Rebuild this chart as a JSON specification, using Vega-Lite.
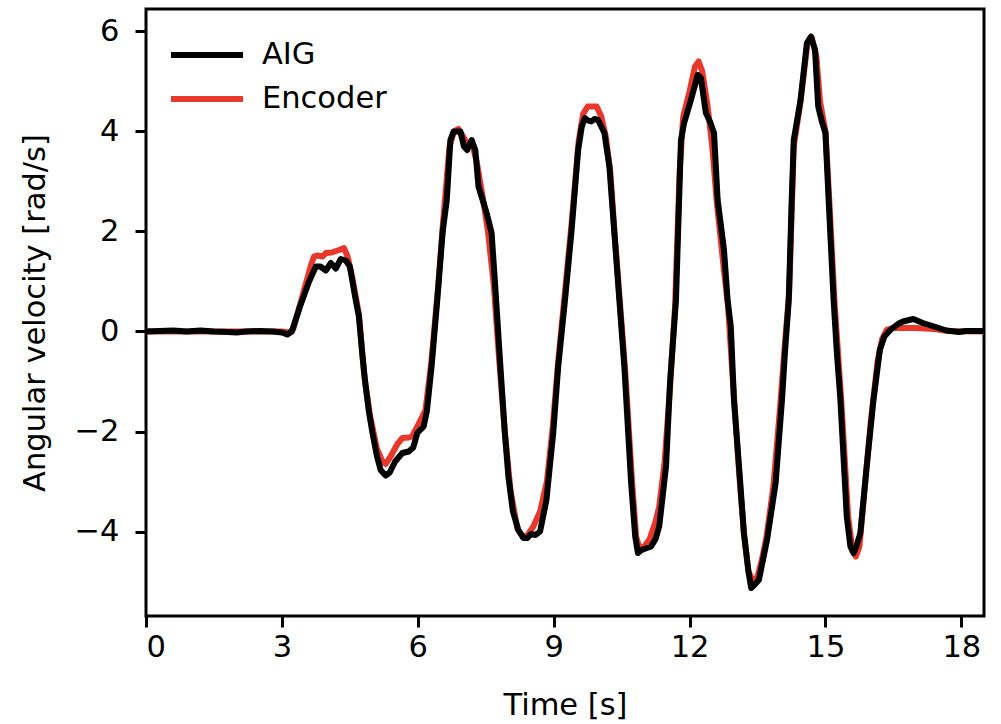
{
  "$schema": "https://vega.github.io/schema/vega-lite/v6.json",
  "width": 838,
  "height": 607,
  "autosize": {"type": "none"},
  "padding": {"left": 146, "top": 9, "right": 17, "bottom": 108},
  "background": "white",
  "config": {
    "view": {"stroke": "black", "strokeWidth": 3},
    "font": "DejaVu Sans",
    "axis": {
      "domain": false,
      "grid": false,
      "tickColor": "black",
      "tickWidth": 3,
      "tickSize": 11,
      "labelFont": "DejaVu Sans",
      "labelFontSize": 30.5,
      "labelColor": "black",
      "titleFont": "DejaVu Sans",
      "titleFontSize": 30.5,
      "titleFontWeight": "normal",
      "titleColor": "black"
    },
    "legend": {
      "labelFont": "DejaVu Sans",
      "labelFontSize": 30.5,
      "labelColor": "black"
    }
  },
  "data": {
    "values": [
      {"t": 0, "v": 0, "s": "Encoder"},
      {"t": 3.0, "v": 0, "s": "Encoder"},
      {"t": 3.15, "v": -0.02, "s": "Encoder"},
      {"t": 3.25, "v": 0.05, "s": "Encoder"},
      {"t": 3.45, "v": 0.7, "s": "Encoder"},
      {"t": 3.65, "v": 1.35, "s": "Encoder"},
      {"t": 3.71, "v": 1.5, "s": "Encoder"},
      {"t": 3.8, "v": 1.52, "s": "Encoder"},
      {"t": 3.9, "v": 1.5, "s": "Encoder"},
      {"t": 3.97, "v": 1.57, "s": "Encoder"},
      {"t": 4.1, "v": 1.58, "s": "Encoder"},
      {"t": 4.26, "v": 1.63, "s": "Encoder"},
      {"t": 4.37, "v": 1.67, "s": "Encoder"},
      {"t": 4.45, "v": 1.5, "s": "Encoder"},
      {"t": 4.55, "v": 1.1, "s": "Encoder"},
      {"t": 4.7, "v": 0.35, "s": "Encoder"},
      {"t": 4.82, "v": -0.9, "s": "Encoder"},
      {"t": 4.95, "v": -1.7, "s": "Encoder"},
      {"t": 5.1, "v": -2.35, "s": "Encoder"},
      {"t": 5.22, "v": -2.6, "s": "Encoder"},
      {"t": 5.29, "v": -2.65, "s": "Encoder"},
      {"t": 5.4, "v": -2.5, "s": "Encoder"},
      {"t": 5.55, "v": -2.25, "s": "Encoder"},
      {"t": 5.66, "v": -2.13, "s": "Encoder"},
      {"t": 5.8, "v": -2.12, "s": "Encoder"},
      {"t": 5.87, "v": -2.1, "s": "Encoder"},
      {"t": 5.99, "v": -1.9, "s": "Encoder"},
      {"t": 6.17, "v": -1.57, "s": "Encoder"},
      {"t": 6.3, "v": -0.6, "s": "Encoder"},
      {"t": 6.45, "v": 0.9, "s": "Encoder"},
      {"t": 6.55, "v": 2.1, "s": "Encoder"},
      {"t": 6.7, "v": 3.7, "s": "Encoder"},
      {"t": 6.8, "v": 4.0, "s": "Encoder"},
      {"t": 6.9, "v": 4.05, "s": "Encoder"},
      {"t": 7.0, "v": 3.9, "s": "Encoder"},
      {"t": 7.1, "v": 3.75, "s": "Encoder"},
      {"t": 7.2, "v": 3.75, "s": "Encoder"},
      {"t": 7.3, "v": 3.4, "s": "Encoder"},
      {"t": 7.45, "v": 2.6, "s": "Encoder"},
      {"t": 7.55, "v": 2.0, "s": "Encoder"},
      {"t": 7.68, "v": 0.9, "s": "Encoder"},
      {"t": 7.8, "v": -0.6, "s": "Encoder"},
      {"t": 7.92, "v": -2.0, "s": "Encoder"},
      {"t": 8.05, "v": -3.2, "s": "Encoder"},
      {"t": 8.2, "v": -3.95, "s": "Encoder"},
      {"t": 8.32, "v": -4.1, "s": "Encoder"},
      {"t": 8.42, "v": -4.08, "s": "Encoder"},
      {"t": 8.55, "v": -3.9, "s": "Encoder"},
      {"t": 8.7, "v": -3.6, "s": "Encoder"},
      {"t": 8.85, "v": -3.0, "s": "Encoder"},
      {"t": 8.98, "v": -1.9, "s": "Encoder"},
      {"t": 9.1, "v": -0.6, "s": "Encoder"},
      {"t": 9.25, "v": 0.8, "s": "Encoder"},
      {"t": 9.4, "v": 2.2, "s": "Encoder"},
      {"t": 9.55, "v": 3.8, "s": "Encoder"},
      {"t": 9.65, "v": 4.35, "s": "Encoder"},
      {"t": 9.75, "v": 4.5, "s": "Encoder"},
      {"t": 9.85, "v": 4.5, "s": "Encoder"},
      {"t": 9.95, "v": 4.5, "s": "Encoder"},
      {"t": 10.05, "v": 4.3, "s": "Encoder"},
      {"t": 10.15, "v": 3.9, "s": "Encoder"},
      {"t": 10.25, "v": 3.2, "s": "Encoder"},
      {"t": 10.35, "v": 1.9, "s": "Encoder"},
      {"t": 10.47, "v": 0.5, "s": "Encoder"},
      {"t": 10.58, "v": -0.8, "s": "Encoder"},
      {"t": 10.73, "v": -3.0, "s": "Encoder"},
      {"t": 10.82, "v": -4.1, "s": "Encoder"},
      {"t": 10.9, "v": -4.35, "s": "Encoder"},
      {"t": 11.0, "v": -4.3, "s": "Encoder"},
      {"t": 11.12, "v": -4.15, "s": "Encoder"},
      {"t": 11.25, "v": -3.8, "s": "Encoder"},
      {"t": 11.33, "v": -3.5, "s": "Encoder"},
      {"t": 11.45, "v": -2.6, "s": "Encoder"},
      {"t": 11.57, "v": -1.1, "s": "Encoder"},
      {"t": 11.68, "v": 0.5, "s": "Encoder"},
      {"t": 11.78, "v": 3.2, "s": "Encoder"},
      {"t": 11.86, "v": 4.3, "s": "Encoder"},
      {"t": 12.0, "v": 4.8, "s": "Encoder"},
      {"t": 12.12, "v": 5.3, "s": "Encoder"},
      {"t": 12.2, "v": 5.4, "s": "Encoder"},
      {"t": 12.28, "v": 5.2, "s": "Encoder"},
      {"t": 12.4, "v": 4.5, "s": "Encoder"},
      {"t": 12.5, "v": 3.7, "s": "Encoder"},
      {"t": 12.6, "v": 2.6, "s": "Encoder"},
      {"t": 12.75, "v": 1.3, "s": "Encoder"},
      {"t": 12.85, "v": 0.5, "s": "Encoder"},
      {"t": 12.95, "v": -0.9, "s": "Encoder"},
      {"t": 13.1, "v": -2.9, "s": "Encoder"},
      {"t": 13.2, "v": -4.05, "s": "Encoder"},
      {"t": 13.3, "v": -4.8, "s": "Encoder"},
      {"t": 13.4, "v": -5.0, "s": "Encoder"},
      {"t": 13.5, "v": -4.9, "s": "Encoder"},
      {"t": 13.6, "v": -4.55, "s": "Encoder"},
      {"t": 13.7, "v": -4.1, "s": "Encoder"},
      {"t": 13.85, "v": -3.1, "s": "Encoder"},
      {"t": 14.0, "v": -1.5, "s": "Encoder"},
      {"t": 14.1, "v": -0.3, "s": "Encoder"},
      {"t": 14.2, "v": 0.8, "s": "Encoder"},
      {"t": 14.3, "v": 3.7, "s": "Encoder"},
      {"t": 14.45, "v": 4.6, "s": "Encoder"},
      {"t": 14.6, "v": 5.75, "s": "Encoder"},
      {"t": 14.7, "v": 5.87, "s": "Encoder"},
      {"t": 14.8, "v": 5.5, "s": "Encoder"},
      {"t": 14.88, "v": 4.6, "s": "Encoder"},
      {"t": 15.0, "v": 4.0, "s": "Encoder"},
      {"t": 15.08, "v": 2.7, "s": "Encoder"},
      {"t": 15.2, "v": 0.6, "s": "Encoder"},
      {"t": 15.35, "v": -1.4, "s": "Encoder"},
      {"t": 15.5, "v": -3.7, "s": "Encoder"},
      {"t": 15.6, "v": -4.4, "s": "Encoder"},
      {"t": 15.67, "v": -4.5, "s": "Encoder"},
      {"t": 15.75, "v": -4.3, "s": "Encoder"},
      {"t": 15.85, "v": -3.3, "s": "Encoder"},
      {"t": 16.0, "v": -1.8, "s": "Encoder"},
      {"t": 16.15, "v": -0.6, "s": "Encoder"},
      {"t": 16.25, "v": -0.15, "s": "Encoder"},
      {"t": 16.35, "v": 0.03, "s": "Encoder"},
      {"t": 16.5, "v": 0.07, "s": "Encoder"},
      {"t": 16.7, "v": 0.07, "s": "Encoder"},
      {"t": 17.0, "v": 0.07, "s": "Encoder"},
      {"t": 17.4, "v": 0.05, "s": "Encoder"},
      {"t": 17.7, "v": 0.01, "s": "Encoder"},
      {"t": 18.5, "v": 0.0, "s": "Encoder"},

      {"t": 0, "v": 0.0, "s": "AIG"},
      {"t": 0.3, "v": 0.01, "s": "AIG"},
      {"t": 0.6, "v": 0.02, "s": "AIG"},
      {"t": 0.9, "v": 0.0, "s": "AIG"},
      {"t": 1.2, "v": 0.02, "s": "AIG"},
      {"t": 1.5, "v": 0.0, "s": "AIG"},
      {"t": 1.8, "v": -0.01, "s": "AIG"},
      {"t": 2.0, "v": -0.02, "s": "AIG"},
      {"t": 2.2, "v": 0.0, "s": "AIG"},
      {"t": 2.5, "v": 0.01, "s": "AIG"},
      {"t": 2.8, "v": 0.0, "s": "AIG"},
      {"t": 3.0, "v": -0.02, "s": "AIG"},
      {"t": 3.12, "v": -0.06, "s": "AIG"},
      {"t": 3.22, "v": 0.0, "s": "AIG"},
      {"t": 3.4, "v": 0.5, "s": "AIG"},
      {"t": 3.6, "v": 1.0, "s": "AIG"},
      {"t": 3.75, "v": 1.3, "s": "AIG"},
      {"t": 3.85, "v": 1.3, "s": "AIG"},
      {"t": 3.97, "v": 1.22, "s": "AIG"},
      {"t": 4.08, "v": 1.37, "s": "AIG"},
      {"t": 4.19, "v": 1.26, "s": "AIG"},
      {"t": 4.3, "v": 1.45, "s": "AIG"},
      {"t": 4.41, "v": 1.42, "s": "AIG"},
      {"t": 4.5, "v": 1.3, "s": "AIG"},
      {"t": 4.63, "v": 0.63, "s": "AIG"},
      {"t": 4.7, "v": 0.3, "s": "AIG"},
      {"t": 4.78, "v": -0.5, "s": "AIG"},
      {"t": 4.85, "v": -1.1, "s": "AIG"},
      {"t": 4.92, "v": -1.6, "s": "AIG"},
      {"t": 5.0, "v": -2.03, "s": "AIG"},
      {"t": 5.1, "v": -2.5, "s": "AIG"},
      {"t": 5.18, "v": -2.77, "s": "AIG"},
      {"t": 5.29, "v": -2.88, "s": "AIG"},
      {"t": 5.38, "v": -2.82, "s": "AIG"},
      {"t": 5.5, "v": -2.6, "s": "AIG"},
      {"t": 5.66, "v": -2.43, "s": "AIG"},
      {"t": 5.8, "v": -2.4, "s": "AIG"},
      {"t": 5.9, "v": -2.32, "s": "AIG"},
      {"t": 5.99, "v": -2.03, "s": "AIG"},
      {"t": 6.13, "v": -1.9, "s": "AIG"},
      {"t": 6.2, "v": -1.6, "s": "AIG"},
      {"t": 6.31, "v": -0.65, "s": "AIG"},
      {"t": 6.43, "v": 0.63, "s": "AIG"},
      {"t": 6.55, "v": 2.0, "s": "AIG"},
      {"t": 6.64, "v": 2.63, "s": "AIG"},
      {"t": 6.72, "v": 3.83, "s": "AIG"},
      {"t": 6.79, "v": 4.0, "s": "AIG"},
      {"t": 6.94, "v": 4.0, "s": "AIG"},
      {"t": 7.02, "v": 3.7, "s": "AIG"},
      {"t": 7.09, "v": 3.63, "s": "AIG"},
      {"t": 7.19, "v": 3.83, "s": "AIG"},
      {"t": 7.27, "v": 3.63, "s": "AIG"},
      {"t": 7.34, "v": 2.9, "s": "AIG"},
      {"t": 7.52, "v": 2.37, "s": "AIG"},
      {"t": 7.63, "v": 1.97, "s": "AIG"},
      {"t": 7.71, "v": 0.9, "s": "AIG"},
      {"t": 7.82, "v": -0.65, "s": "AIG"},
      {"t": 7.92, "v": -2.0, "s": "AIG"},
      {"t": 8.0, "v": -2.9, "s": "AIG"},
      {"t": 8.1, "v": -3.6, "s": "AIG"},
      {"t": 8.22, "v": -3.97, "s": "AIG"},
      {"t": 8.33, "v": -4.13, "s": "AIG"},
      {"t": 8.42, "v": -4.13, "s": "AIG"},
      {"t": 8.5, "v": -4.05, "s": "AIG"},
      {"t": 8.6, "v": -4.07, "s": "AIG"},
      {"t": 8.7, "v": -4.0, "s": "AIG"},
      {"t": 8.84, "v": -3.37, "s": "AIG"},
      {"t": 8.99, "v": -2.03, "s": "AIG"},
      {"t": 9.1, "v": -0.7, "s": "AIG"},
      {"t": 9.25, "v": 0.63, "s": "AIG"},
      {"t": 9.39, "v": 1.97, "s": "AIG"},
      {"t": 9.54, "v": 3.63, "s": "AIG"},
      {"t": 9.62, "v": 4.1, "s": "AIG"},
      {"t": 9.69, "v": 4.27, "s": "AIG"},
      {"t": 9.76, "v": 4.22, "s": "AIG"},
      {"t": 9.83, "v": 4.2, "s": "AIG"},
      {"t": 9.9, "v": 4.25, "s": "AIG"},
      {"t": 9.98, "v": 4.23, "s": "AIG"},
      {"t": 10.05, "v": 4.1, "s": "AIG"},
      {"t": 10.12, "v": 3.97, "s": "AIG"},
      {"t": 10.23, "v": 3.3, "s": "AIG"},
      {"t": 10.34, "v": 1.97, "s": "AIG"},
      {"t": 10.45, "v": 0.63, "s": "AIG"},
      {"t": 10.56, "v": -0.7, "s": "AIG"},
      {"t": 10.71, "v": -3.03, "s": "AIG"},
      {"t": 10.8, "v": -4.1, "s": "AIG"},
      {"t": 10.86, "v": -4.43, "s": "AIG"},
      {"t": 10.92, "v": -4.38, "s": "AIG"},
      {"t": 11.0, "v": -4.35, "s": "AIG"},
      {"t": 11.15, "v": -4.3, "s": "AIG"},
      {"t": 11.25, "v": -4.15, "s": "AIG"},
      {"t": 11.33, "v": -3.9, "s": "AIG"},
      {"t": 11.48, "v": -2.7, "s": "AIG"},
      {"t": 11.57, "v": -1.0, "s": "AIG"},
      {"t": 11.7, "v": 0.63, "s": "AIG"},
      {"t": 11.81, "v": 3.83, "s": "AIG"},
      {"t": 11.88, "v": 4.17, "s": "AIG"},
      {"t": 12.03, "v": 4.63, "s": "AIG"},
      {"t": 12.18, "v": 5.13, "s": "AIG"},
      {"t": 12.25, "v": 5.07, "s": "AIG"},
      {"t": 12.36, "v": 4.37, "s": "AIG"},
      {"t": 12.45, "v": 4.2, "s": "AIG"},
      {"t": 12.54, "v": 3.97, "s": "AIG"},
      {"t": 12.62, "v": 2.63, "s": "AIG"},
      {"t": 12.76, "v": 1.63, "s": "AIG"},
      {"t": 12.84, "v": 0.63, "s": "AIG"},
      {"t": 12.91, "v": 0.1, "s": "AIG"},
      {"t": 12.98, "v": -1.37, "s": "AIG"},
      {"t": 13.1, "v": -2.8, "s": "AIG"},
      {"t": 13.2, "v": -4.03, "s": "AIG"},
      {"t": 13.3, "v": -4.8, "s": "AIG"},
      {"t": 13.36, "v": -5.13, "s": "AIG"},
      {"t": 13.45, "v": -5.05, "s": "AIG"},
      {"t": 13.53, "v": -4.97, "s": "AIG"},
      {"t": 13.71, "v": -4.17, "s": "AIG"},
      {"t": 13.9, "v": -3.03, "s": "AIG"},
      {"t": 14.04, "v": -1.37, "s": "AIG"},
      {"t": 14.1, "v": -0.5, "s": "AIG"},
      {"t": 14.19, "v": 0.63, "s": "AIG"},
      {"t": 14.25, "v": 2.5, "s": "AIG"},
      {"t": 14.3, "v": 3.83, "s": "AIG"},
      {"t": 14.45, "v": 4.63, "s": "AIG"},
      {"t": 14.59, "v": 5.77, "s": "AIG"},
      {"t": 14.68, "v": 5.9, "s": "AIG"},
      {"t": 14.77, "v": 5.63, "s": "AIG"},
      {"t": 14.84, "v": 4.5, "s": "AIG"},
      {"t": 14.92, "v": 4.2, "s": "AIG"},
      {"t": 15.0, "v": 3.97, "s": "AIG"},
      {"t": 15.07, "v": 2.63, "s": "AIG"},
      {"t": 15.18, "v": 0.63, "s": "AIG"},
      {"t": 15.25, "v": -0.4, "s": "AIG"},
      {"t": 15.33, "v": -1.37, "s": "AIG"},
      {"t": 15.47, "v": -3.7, "s": "AIG"},
      {"t": 15.55, "v": -4.3, "s": "AIG"},
      {"t": 15.62, "v": -4.43, "s": "AIG"},
      {"t": 15.68, "v": -4.3, "s": "AIG"},
      {"t": 15.77, "v": -4.03, "s": "AIG"},
      {"t": 15.91, "v": -2.7, "s": "AIG"},
      {"t": 16.06, "v": -1.37, "s": "AIG"},
      {"t": 16.2, "v": -0.37, "s": "AIG"},
      {"t": 16.3, "v": -0.1, "s": "AIG"},
      {"t": 16.43, "v": 0.03, "s": "AIG"},
      {"t": 16.6, "v": 0.15, "s": "AIG"},
      {"t": 16.71, "v": 0.2, "s": "AIG"},
      {"t": 16.94, "v": 0.25, "s": "AIG"},
      {"t": 17.15, "v": 0.17, "s": "AIG"},
      {"t": 17.4, "v": 0.1, "s": "AIG"},
      {"t": 17.67, "v": 0.02, "s": "AIG"},
      {"t": 17.95, "v": -0.01, "s": "AIG"},
      {"t": 18.1, "v": 0.01, "s": "AIG"},
      {"t": 18.5, "v": 0.01, "s": "AIG"}
    ]
  },
  "mark": {"type": "line", "strokeWidth": 6, "strokeJoin": "round", "strokeCap": "round", "clip": true},
  "encoding": {
    "x": {
      "field": "t", "type": "quantitative",
      "scale": {"domain": [0, 18.5], "nice": false, "zero": false},
      "axis": {"title": "Time [s]", "values": [0, 3, 6, 9, 12, 15, 18], "labelPadding": 5, "titlePadding": 28}
    },
    "y": {
      "field": "v", "type": "quantitative",
      "scale": {"domain": [-5.69, 6.45], "nice": false, "zero": false},
      "axis": {"title": "Angular velocity [rad/s]", "values": [-4, -2, 0, 2, 4, 6], "labelPadding": 16, "titlePadding": 24}
    },
    "color": {
      "field": "s", "type": "nominal",
      "scale": {"domain": ["AIG", "Encoder"], "range": ["black", "#e8382c"]},
      "legend": {
        "title": null,
        "orient": "none",
        "legendX": 40,
        "legendY": 25,
        "symbolType": "M-2,0H2",
        "symbolSize": 1296,
        "symbolStrokeWidth": 6,
        "labelOffset": 34,
        "rowPadding": 7
      }
    },
    "order": {"field": "t", "type": "quantitative"}
  }
}
